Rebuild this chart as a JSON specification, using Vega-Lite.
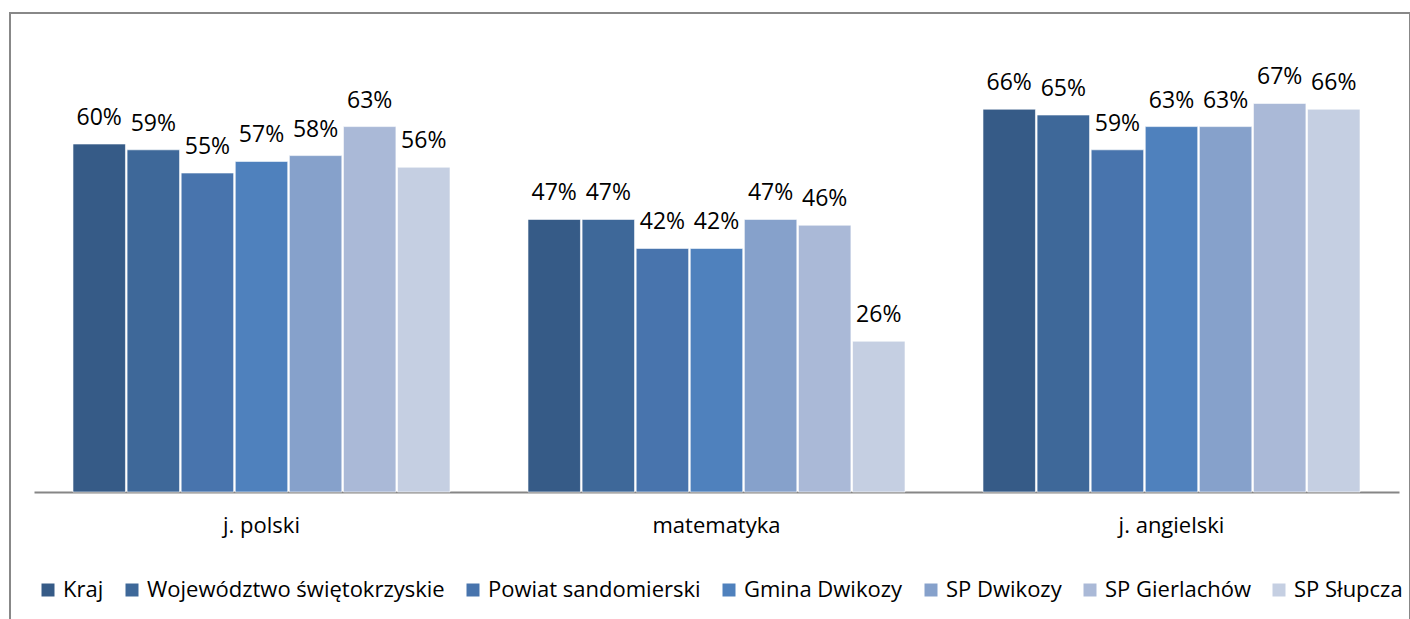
{
  "$schema": "https://vega.github.io/schema/vega-lite/v6.json",
  "width": 1400,
  "height": 620,
  "autosize": {"type": "none"},
  "padding": {"left": 10, "top": 13, "right": 0, "bottom": 0},
  "background": "white",
  "config": {"view": {"stroke": "#888888", "strokeWidth": 2}, "font": "Open Sans"},
  "data": {
    "values": [
      {"subject": "j. polski", "unit": "Kraj", "value": 0.60},
      {"subject": "j. polski", "unit": "Województwo świętokrzyskie", "value": 0.59},
      {"subject": "j. polski", "unit": "Powiat sandomierski", "value": 0.55},
      {"subject": "j. polski", "unit": "Gmina Dwikozy", "value": 0.57},
      {"subject": "j. polski", "unit": "SP Dwikozy", "value": 0.58},
      {"subject": "j. polski", "unit": "SP Gierlachów", "value": 0.63},
      {"subject": "j. polski", "unit": "SP Słupcza", "value": 0.56},
      {"subject": "matematyka", "unit": "Kraj", "value": 0.47},
      {"subject": "matematyka", "unit": "Województwo świętokrzyskie", "value": 0.47},
      {"subject": "matematyka", "unit": "Powiat sandomierski", "value": 0.42},
      {"subject": "matematyka", "unit": "Gmina Dwikozy", "value": 0.42},
      {"subject": "matematyka", "unit": "SP Dwikozy", "value": 0.47},
      {"subject": "matematyka", "unit": "SP Gierlachów", "value": 0.46},
      {"subject": "matematyka", "unit": "SP Słupcza", "value": 0.26},
      {"subject": "j. angielski", "unit": "Kraj", "value": 0.66},
      {"subject": "j. angielski", "unit": "Województwo świętokrzyskie", "value": 0.65},
      {"subject": "j. angielski", "unit": "Powiat sandomierski", "value": 0.59},
      {"subject": "j. angielski", "unit": "Gmina Dwikozy", "value": 0.63},
      {"subject": "j. angielski", "unit": "SP Dwikozy", "value": 0.63},
      {"subject": "j. angielski", "unit": "SP Gierlachów", "value": 0.67},
      {"subject": "j. angielski", "unit": "SP Słupcza", "value": 0.66}
    ]
  },
  "encoding": {
    "x": {
      "field": "subject",
      "type": "nominal",
      "sort": ["j. polski", "matematyka", "j. angielski"],
      "scale": {"range": [24, 1389], "paddingInner": 0.1714, "paddingOuter": 0.0857},
      "axis": {
        "title": null,
        "orient": "bottom",
        "offset": -141,
        "labelAngle": 0,
        "ticks": false,
        "domainColor": "#868686",
        "domainWidth": 2,
        "labelFont": "Open Sans",
        "labelFontSize": 22,
        "labelColor": "#000000",
        "labelPadding": 23
      }
    },
    "xOffset": {
      "field": "unit",
      "type": "nominal",
      "sort": ["Kraj", "Województwo świętokrzyskie", "Powiat sandomierski", "Gmina Dwikozy", "SP Dwikozy", "SP Gierlachów", "SP Słupcza"],
      "scale": {"paddingInner": 0.03}
    },
    "y": {
      "field": "value",
      "type": "quantitative",
      "scale": {"domain": [0, 1], "range": [479, -101], "nice": false},
      "axis": null
    }
  },
  "layer": [
    {
      "mark": {"type": "bar", "stroke": "#ffffff", "strokeWidth": 1, "strokeOpacity": 0.6},
      "encoding": {
        "color": {
          "field": "unit",
          "type": "nominal",
          "sort": ["Kraj", "Województwo świętokrzyskie", "Powiat sandomierski", "Gmina Dwikozy", "SP Dwikozy", "SP Gierlachów", "SP Słupcza"],
          "scale": {
            "domain": ["Kraj", "Województwo świętokrzyskie", "Powiat sandomierski", "Gmina Dwikozy", "SP Dwikozy", "SP Gierlachów", "SP Słupcza"],
            "range": ["#365B87", "#3E6899", "#4874AD", "#4F81BD", "#86A1CB", "#AAB9D7", "#C5CFE2"]
          },
          "legend": {
            "orient": "none",
            "legendX": 27,
            "legendY": 566,
            "direction": "horizontal",
            "title": null,
            "symbolType": "square",
            "symbolSize": 169,
            "symbolStrokeWidth": 0,
            "labelFont": "Open Sans",
            "labelFontSize": 22,
            "labelColor": "#000000",
            "labelLimit": 400,
            "labelOffset": 4,
            "columnPadding": 17
          }
        }
      }
    },
    {
      "mark": {"type": "text", "dy": -19, "baseline": "alphabetic", "fontSize": 23, "font": "Open Sans", "color": "#000000"},
      "encoding": {"text": {"field": "value", "type": "quantitative", "format": ".0%"}}
    }
  ]
}
